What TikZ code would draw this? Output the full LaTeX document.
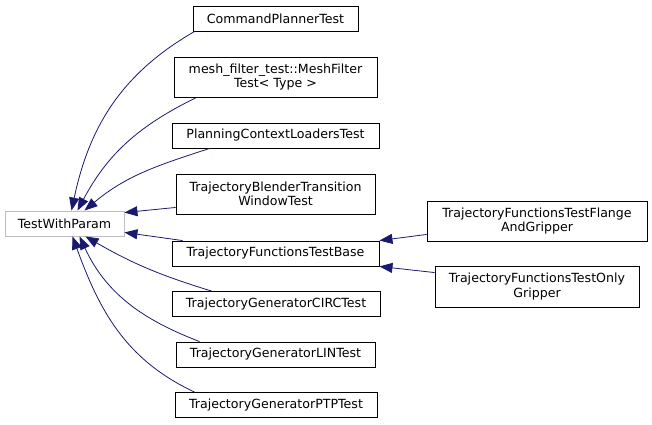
\documentclass[tikz,border=0pt]{standalone}
\usepackage{fontspec}
\setmainfont{DejaVu Sans}
\usetikzlibrary{arrows.meta}
\definecolor{edgeblue}{RGB}{25,25,112}
\definecolor{boxgray}{RGB}{191,191,191}

\begin{document}
\begin{tikzpicture}[x=1pt,y=1pt,
   cls/.style={draw=black,line width=0.9pt,fill=white,inner sep=0pt,align=center,
     minimum height=25pt,font=\fontsize{12.6}{14.5}\selectfont},
   inh/.style={draw=edgeblue,line width=0.8pt,
     -{Triangle[length=13pt,width=10pt,fill=edgeblue]}}]
   \useasboundingbox (0,0) rectangle (652,424);
   % base class
   \node[cls,draw=boxgray,minimum width=119pt] (twp) at ( 64.5,200.5) {TestWithParam};
   % derived classes
   \node[cls,minimum width=165pt] (cmd)   at (275.5,405.5) {CommandPlannerTest};
   \node[cls,minimum width=203pt,minimum height=40pt] (mesh) at (275.5,347.0)
    {mesh\_filter\_test::MeshFilter\\Test< Type >};
   \node[cls,minimum width=207pt] (plan)  at (275.5,288.5) {PlanningContextLoadersTest};
   \node[cls,minimum width=199pt,minimum height=40pt] (blend) at (275.5,230.0)
    {TrajectoryBlenderTransition\\WindowTest};
   \node[cls,minimum width=207pt] (base)  at (275.5,170.5) {TrajectoryFunctionsTestBase};
   \node[cls,minimum width=208pt] (circ)  at (276.0,120.0) {TrajectoryGeneratorCIRCTest};
   \node[cls,minimum width=199pt] (lin)   at (275.5, 69.5) {TrajectoryGeneratorLINTest};
   \node[cls,minimum width=202pt] (ptp)   at (276.0, 19.0) {TrajectoryGeneratorPTPTest};
   \node[cls,minimum width=220pt,minimum height=40pt] (flange) at (537.0,203.0)
    {TrajectoryFunctionsTestFlange\\AndGripper};
   \node[cls,minimum width=204pt,minimum height=41pt] (only) at (537.0,137.5)
    {TrajectoryFunctionsTestOnly\\Gripper};
   % inheritance arrows
   \draw[inh] ([xshift=2pt]cmd.south west)   to[out=210,in=78]  ([xshift=7pt]twp.north);
   \draw[inh] ([xshift=23pt]mesh.south west) to[out=206,in=62]  ([xshift=13pt]twp.north);
   \draw[inh] ([xshift=38pt]plan.south west) to[out=198,in=40]  ([xshift=20pt]twp.north);
   \draw[inh] ([yshift=7pt]blend.south west) --                 ([yshift=-2pt]twp.north east);
   \draw[inh] ([xshift=11pt]base.north west) --                 ([yshift=4pt]twp.south east);
   \draw[inh] ([xshift=40pt]circ.north west) to[out=163,in=-30] ([xshift=21pt]twp.south);
   \draw[inh] ([xshift=24pt]lin.north west)  to[out=159,in=-65] ([xshift=15pt]twp.south);
   \draw[inh] ([xshift=20pt]ptp.north west)  to[out=155,in=-70] ([xshift=8pt]twp.south);
   \draw[inh] ([yshift=7pt]flange.south west) -- (base.north east);
   \draw[inh] ([yshift=-7pt]only.north west)  -- (base.south east);
\end{tikzpicture}
\end{document}
